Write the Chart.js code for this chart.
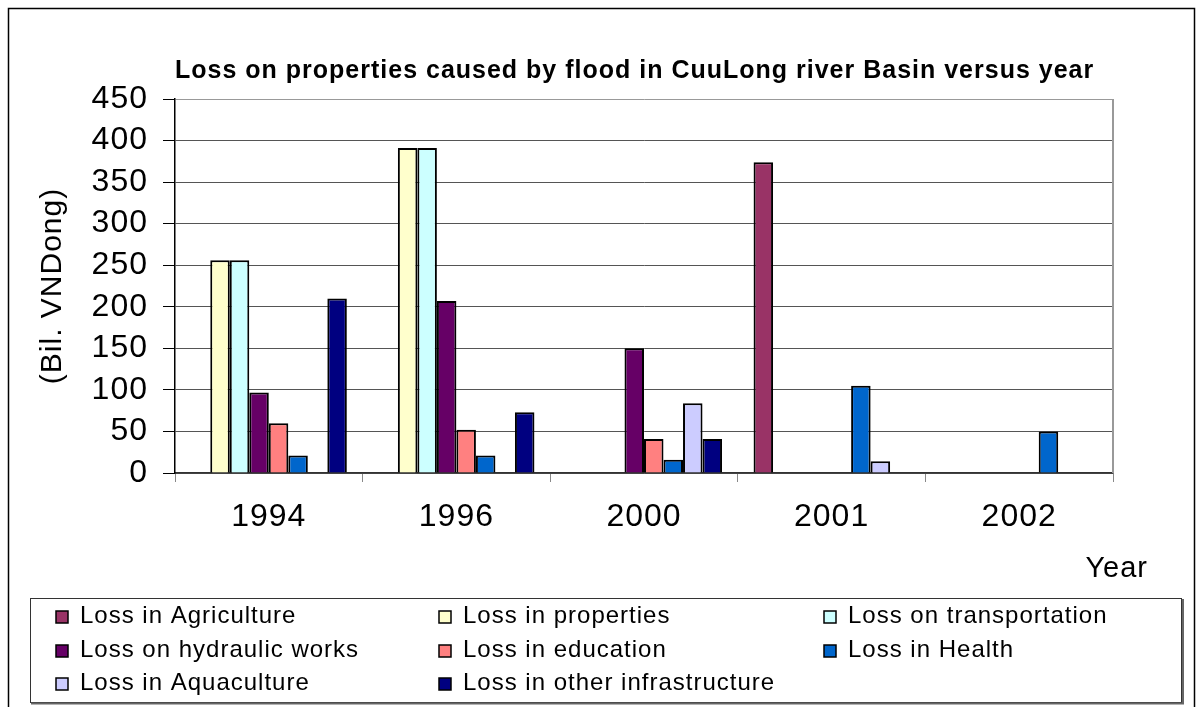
<!DOCTYPE html>
<html>
<head>
<meta charset="utf-8">
<title>Loss on properties caused by flood in CuuLong river Basin</title>
<script src="https://cdn.jsdelivr.net/npm/chart.js@4.4.0/dist/chart.umd.min.js"></script>
<style>
  html, body { margin: 0; padding: 0; background: #fff; }
  .chart-holder { position: relative; width: 1199px; height: 707px; }
</style>
</head>
<body>
<div class="chart-holder"><canvas id="chart"></canvas></div>
<script>
// values in Bil. VNDong (null = no bar)
const years = ['1994', '1996', '2000', '2001', '2002'];
const agriculture = [null, null, null, 374, null];
const properties = [256, 391, null, null, null];
const transportation = [256, 391, null, null, null];
const hydraulicWorks = [97, 207, 150, null, null];
const education = [60, 52, 41, null, null];
const health = [21, 21, 16, 105, 50];
const aquaculture = [null, null, 84, 14, null];
const otherInfrastructure = [210, 73, 41, null, null];

const yMin = 0;
const yMax = 450;
const yStep = 50;

const chartTitle = 'Loss on properties caused by flood in CuuLong river Basin versus year';
const yAxisTitle = '(Bil. VNDong)';
const xAxisTitle = 'Year';

const FONT = "'Liberation Sans', Arial, Helvetica, sans-serif";
const LETTER_SPACING = '1px';

const series = [
  { label: 'Loss in Agriculture', data: agriculture, color: '#993366' },
  { label: 'Loss in properties', data: properties, color: '#ffffcc' },
  { label: 'Loss on transportation', data: transportation, color: '#ccffff' },
  { label: 'Loss on hydraulic works', data: hydraulicWorks, color: '#660066' },
  { label: 'Loss in education', data: education, color: '#ff8080' },
  { label: 'Loss in Health', data: health, color: '#0066cc' },
  { label: 'Loss in Aquaculture', data: aquaculture, color: '#ccccff' },
  { label: 'Loss in other infrastructure', data: otherInfrastructure, color: '#000080' },
];

// background, outer frame, plot border, "Year" label and the boxed legend
const framePlugin = {
  id: 'frame',
  beforeDraw: (chart) => {
    const { ctx, width, height } = chart;
    ctx.save();
    ctx.fillStyle = '#fff';
    ctx.fillRect(0, 0, width, height);
    ctx.strokeStyle = '#000';
    ctx.lineWidth = 1.5;
    ctx.strokeRect(8.5, 8.5, width - 13, height + 10);
    ctx.restore();
    ctx.letterSpacing = LETTER_SPACING;
  },
  beforeDatasetsDraw: (chart) => {
    const { ctx, chartArea } = chart;
    ctx.save();
    ctx.strokeStyle = '#999';
    ctx.lineWidth = 2;
    ctx.beginPath();
    ctx.moveTo(chartArea.right, chartArea.top);
    ctx.lineTo(chartArea.right, chartArea.bottom);
    ctx.stroke();
    ctx.restore();
  },
  afterDraw: (chart) => {
    const { ctx, chartArea } = chart;
    ctx.save();
    ctx.fillStyle = '#000';
    ctx.letterSpacing = LETTER_SPACING;
    ctx.font = `29px ${FONT}`;
    ctx.textAlign = 'right';
    ctx.textBaseline = 'alphabetic';
    ctx.fillText(xAxisTitle, chartArea.right + 35, 577);

    // legend box
    ctx.strokeStyle = '#333';
    ctx.lineWidth = 1;
    ctx.strokeRect(30.5, 598.5, 1151, 104);
    ctx.strokeStyle = '#666';
    ctx.lineWidth = 2;
    ctx.beginPath();
    ctx.moveTo(31, 703.5);
    ctx.lineTo(1183, 703.5);
    ctx.lineTo(1183, 599);
    ctx.stroke();

    const columns = [80, 463, 848];
    const rows = [616, 650, 683];
    ctx.font = `24px ${FONT}`;
    ctx.textAlign = 'left';
    ctx.textBaseline = 'middle';
    chart.data.datasets.forEach((dataset, i) => {
      const x = columns[i % 3];
      const y = rows[Math.floor(i / 3)];
      ctx.fillStyle = dataset.backgroundColor;
      ctx.fillRect(x - 24, y - 5, 12, 12);
      ctx.strokeStyle = '#000';
      ctx.lineWidth = 1.5;
      ctx.strokeRect(x - 24, y - 5, 12, 12);
      ctx.fillStyle = '#000';
      ctx.fillText(dataset.label, x, y);
    });
    ctx.restore();
  },
};

const initChart = () => {
  const chart = new Chart(document.getElementById('chart'), {
    type: 'bar',
    data: {
      labels: years,
      datasets: series.map((s) => ({
        label: s.label,
        data: s.data,
        backgroundColor: s.color,
        borderColor: '#000',
        borderWidth: 2,
        barPercentage: 1,
        categoryPercentage: 0.832,
      })),
    },
    options: {
      responsive: true,
      maintainAspectRatio: false,
      animation: false,
      layout: {
        padding: { top: 0, left: 0, right: 86, bottom: 174 },
      },
      plugins: {
        legend: { display: false },
        tooltip: { enabled: false },
        title: {
          display: true,
          text: chartTitle,
          fullSize: false,
          align: 'start',
          color: '#000',
          font: { family: FONT, size: 25, weight: 'bold', lineHeight: 1.2 },
          padding: { top: 56, bottom: 13 },
        },
      },
      scales: {
        x: {
          offset: true,
          grid: {
            offset: true,
            drawOnChartArea: false,
            tickLength: 9,
            tickColor: '#888',
          },
          border: { color: '#333', width: 1.5 },
          ticks: {
            color: '#000',
            padding: 16,
            font: { family: FONT, size: 32 },
          },
          afterFit: (scale) => {
            scale.height = 60;
          },
        },
        y: {
          min: yMin,
          max: yMax,
          grid: {
            color: (ctx) => (ctx.tick && ctx.tick.value === yMax ? '#999' : '#555'),
            tickLength: 12,
            tickColor: '#000',
          },
          border: { color: '#000', width: 1.5 },
          ticks: {
            stepSize: yStep,
            color: '#000',
            padding: 15,
            font: { family: FONT, size: 32 },
          },
          title: {
            display: true,
            text: yAxisTitle,
            color: '#000',
            font: { family: FONT, size: 30, lineHeight: 1.2 },
            padding: { top: 35, bottom: 0 },
          },
          afterFit: (scale) => {
            scale.width = 175;
          },
        },
      },
    },
    plugins: [framePlugin],
  });
  return chart;
};

initChart();
</script>
</body>
</html>
